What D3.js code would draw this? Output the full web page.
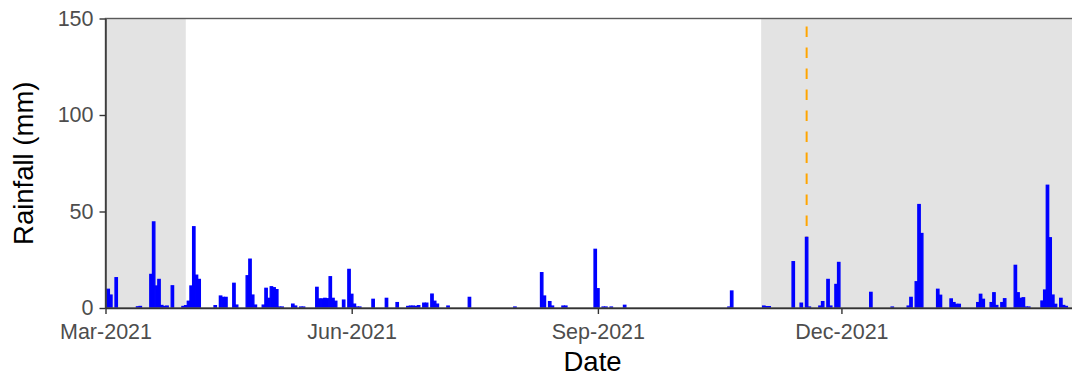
<!DOCTYPE html>
<html>
<head>
<meta charset="utf-8">
<script src="https://cdn.jsdelivr.net/npm/d3@7"></script>
<style>
  html, body { margin: 0; padding: 0; background: #fff; }
  svg { display: block; font-family: "Liberation Sans", Arial, sans-serif; }
</style>
</head>
<body>
<svg id="chart" width="1072" height="378"></svg>
<script>
// Daily rainfall, March 2021 – February 2022
const dates = [
  "2021-03-02","2021-03-03","2021-03-05","2021-03-13","2021-03-14","2021-03-18","2021-03-19","2021-03-20",
  "2021-03-21","2021-03-22","2021-03-23","2021-03-24","2021-03-26","2021-03-30","2021-03-31",
  "2021-04-01","2021-04-02","2021-04-03","2021-04-04","2021-04-05","2021-04-11","2021-04-13","2021-04-14",
  "2021-04-15","2021-04-18","2021-04-19","2021-04-23","2021-04-24","2021-04-25","2021-04-26","2021-04-29",
  "2021-04-30","2021-05-01","2021-05-02","2021-05-03","2021-05-04","2021-05-05","2021-05-06","2021-05-10",
  "2021-05-11","2021-05-13","2021-05-14","2021-05-19","2021-05-20","2021-05-21","2021-05-22","2021-05-23",
  "2021-05-24","2021-05-25","2021-05-26","2021-05-29","2021-05-31","2021-06-01","2021-06-02","2021-06-03",
  "2021-06-04","2021-06-09","2021-06-14","2021-06-18","2021-06-22","2021-06-23","2021-06-24","2021-06-25",
  "2021-06-26","2021-06-28","2021-06-29","2021-07-01","2021-07-02","2021-07-03","2021-07-07","2021-07-15",
  "2021-08-01","2021-08-11","2021-08-12","2021-08-14","2021-08-15","2021-08-19","2021-08-20","2021-08-31",
  "2021-09-01","2021-09-03","2021-09-04","2021-09-06","2021-09-11","2021-10-20","2021-10-21",
  "2021-11-02","2021-11-03","2021-11-04","2021-11-13","2021-11-16","2021-11-18","2021-11-19","2021-11-23",
  "2021-11-24","2021-11-26","2021-11-27","2021-11-29","2021-11-30","2021-12-12","2021-12-20","2021-12-26",
  "2021-12-27","2021-12-29","2021-12-30","2021-12-31","2022-01-06","2022-01-07","2022-01-11","2022-01-12",
  "2022-01-13","2022-01-14","2022-01-21","2022-01-22","2022-01-23","2022-01-26","2022-01-27","2022-01-28",
  "2022-01-30","2022-01-31","2022-02-04","2022-02-05","2022-02-06","2022-02-07","2022-02-08","2022-02-09",
  "2022-02-14","2022-02-15","2022-02-16","2022-02-17","2022-02-18","2022-02-19","2022-02-21","2022-02-22",
  "2022-02-23"
];
const rainfall = [
  9.7, 6.7, 15.7, 0.6, 0.8, 17.4, 44.6, 11.4,
  14.8, 1.3, 0.8, 1.0, 11.5, 0.8, 1.2,
  3.5, 11.4, 42.1, 17.0, 14.8, 1.2, 6.2, 5.5,
  5.5, 12.8, 1.5, 16.7, 25.3, 6.7, 1.5, 1.5,
  10.2, 5.0, 11.0, 10.5, 9.5, 0.5, 0.5, 2.0,
  1.0, 0.5, 0.5, 10.7, 4.7, 4.7, 5.0, 4.8,
  16.2, 5.0, 3.5, 4.1, 20.0, 7.1, 2.0, 0.5,
  0.5, 4.5, 5.0, 2.8, 0.8, 1.0, 1.0, 0.8,
  1.2, 2.5, 2.5, 7.2, 3.5, 2.0, 1.0, 5.5,
  0.5, 18.3, 6.2, 3.3, 1.0, 1.0, 1.0, 30.4,
  10.0, 0.5, 0.5, 0.5, 1.4, 0.5, 8.8,
  1.0, 0.7, 0.7, 24.0, 2.5, 36.6, 0.5, 1.0,
  3.3, 14.8, 1.0, 12.2, 23.6, 8.1, 0.5, 1.0,
  5.5, 13.6, 53.6, 38.6, 9.7, 6.6, 4.7, 2.8,
  1.9, 1.9, 2.8, 7.1, 4.5, 2.8, 7.9, 1.3,
  2.8, 4.8, 22.1, 7.9, 5.0, 5.3, 0.5, 0.5,
  3.6, 9.3, 63.6, 36.4, 6.7, 1.9, 5.0, 1.3,
  0.8
];

// Shaded wet-season periods
const seasonStart = ["2021-03-01", "2021-11-01"];
const seasonEnd   = ["2021-03-31", "2022-02-28"];

// Marked event date
const eventDate = "2021-11-18";

const xDomain = ["2021-03-01", "2022-02-28"];
const xTicks = ["2021-03-01", "2021-06-01", "2021-09-01", "2021-12-01"];
const yTicks = [0, 50, 100, 150];

const parse = d3.utcParse("%Y-%m-%d");
const svg = d3.select("#chart");

const plotLeft = 105.5, plotRight = 1079.6, plotTop = 18.5, plotBottom = 308;

const x = d3.scaleUtc()
  .domain(xDomain.map(parse))
  .range([plotLeft, plotRight]);
const y = d3.scaleLinear()
  .domain([0, 150])
  .range([plotBottom, plotTop]);

const dayW = x(parse("2021-03-02")) - x(parse("2021-03-01"));
const barW = dayW * 0.9;

svg.append("defs").append("clipPath").attr("id", "plot-clip")
  .append("rect")
  .attr("x", plotLeft).attr("y", plotTop)
  .attr("width", plotRight - plotLeft).attr("height", plotBottom - plotTop);

const plot = svg.append("g").attr("clip-path", "url(#plot-clip)");

// Season shading
plot.selectAll("rect.season")
  .data(seasonStart.map((s, i) => ({ s: parse(s), e: parse(seasonEnd[i]) })))
  .join("rect")
  .attr("class", "season")
  .attr("x", d => x(d.s))
  .attr("y", plotTop)
  .attr("width", d => x(d.e) - x(d.s))
  .attr("height", plotBottom - plotTop)
  .attr("fill", "#e3e3e3");

// Event marker
plot.append("line")
  .attr("x1", x(parse(eventDate))).attr("x2", x(parse(eventDate)))
  .attr("y1", y(150)).attr("y2", y(0))
  .attr("stroke", "#ffa500")
  .attr("stroke-width", 2)
  .attr("stroke-dasharray", "10.5,10.5")
  .attr("stroke-dashoffset", 13);

// Rainfall bars
const rows = dates.map((d, i) => ({ date: parse(d), value: rainfall[i] }));
plot.selectAll("rect.bar")
  .data(rows)
  .join("rect")
  .attr("class", "bar")
  .attr("x", d => x(d.date) - barW / 2)
  .attr("y", d => y(d.value))
  .attr("width", barW)
  .attr("height", d => y(0) - y(d.value))
  .attr("fill", "#0000ff")
  .attr("stroke", "#0000ff")
  .attr("stroke-width", 1.3);

// Panel outline
svg.append("rect")
  .attr("x", plotLeft).attr("y", plotTop)
  .attr("width", plotRight - plotLeft).attr("height", plotBottom - plotTop)
  .attr("fill", "none")
  .attr("stroke", "#5a5a5a")
  .attr("stroke-width", 1.4);

// Axes
const yAxis = svg.append("g")
  .attr("transform", `translate(${plotLeft},0)`)
  .call(d3.axisLeft(y).tickValues(yTicks).tickSize(6).tickSizeOuter(0).tickPadding(6));

const xAxis = svg.append("g")
  .attr("transform", `translate(0,${plotBottom})`)
  .call(d3.axisBottom(x).tickValues(xTicks.map(parse)).tickSize(6).tickSizeOuter(0)
    .tickFormat(d3.utcFormat("%b-%Y")));

[yAxis, xAxis].forEach(g => {
  g.select(".domain").attr("stroke", "#333").attr("stroke-width", 1.4);
  g.selectAll(".tick line").attr("stroke", "#333").attr("stroke-width", 1.4);
  g.selectAll(".tick text")
    .attr("fill", "#4d4d4d")
    .style("font-size", "21.5px")
    .style("font-family", "'Liberation Sans', Arial, sans-serif");
});
xAxis.selectAll(".tick text").attr("y", 31).attr("dy", "0");

// Axis titles
svg.append("text")
  .attr("x", (plotLeft + plotRight) / 2)
  .attr("y", 371)
  .attr("text-anchor", "middle")
  .style("font-size", "27.5px")
  .attr("fill", "#000")
  .text("Date");

svg.append("text")
  .attr("transform", `translate(33,${(plotTop + plotBottom) / 2}) rotate(-90)`)
  .attr("text-anchor", "middle")
  .style("font-size", "27.5px")
  .attr("fill", "#000")
  .text("Rainfall (mm)");
</script>
</body>
</html>
